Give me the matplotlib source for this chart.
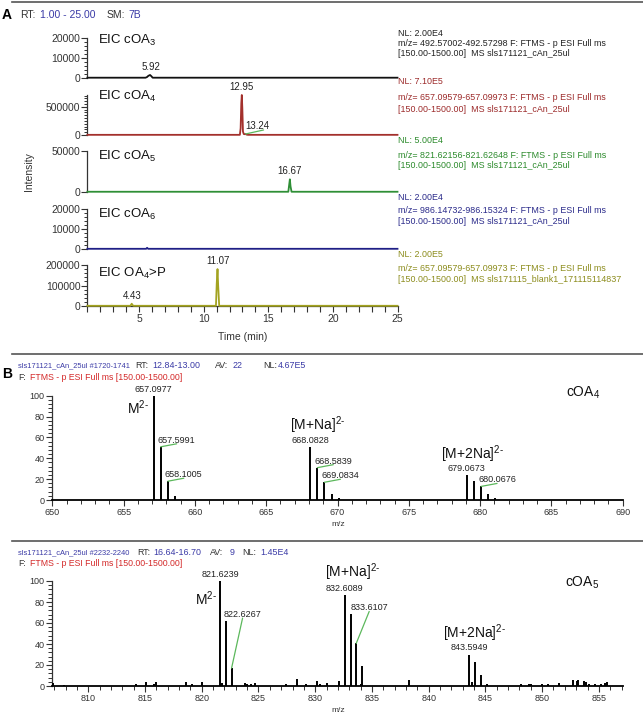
import matplotlib
matplotlib.use("Agg")
import matplotlib.pyplot as plt
from matplotlib.ticker import MultipleLocator

plt.rcParams['font.family'] = ['Liberation Sans', 'DejaVu Sans']
plt.rcParams['mathtext.fontset'] = 'custom'
plt.rcParams['mathtext.rm'] = 'Liberation Sans'
plt.rcParams['mathtext.it'] = 'Liberation Sans:italic'
plt.rcParams['mathtext.bf'] = 'Liberation Sans:bold'

W, H = 643, 714

# ---------------- panel A: extracted ion chromatograms ----------------
eic_names = ['EIC cOA$_3$', 'EIC cOA$_4$', 'EIC cOA$_5$', 'EIC cOA$_6$', 'EIC OA$_4$>P']

coa3_t = [1.0, 5.50, 5.62, 5.72, 5.85, 5.95, 6.05, 25.0]
coa3_i = [150, 150, 500, 1100, 1500, 900, 150, 150]
coa4_t = [1.0, 12.80, 12.86, 12.91, 12.95, 12.99, 13.04, 13.10, 13.18, 13.24, 13.32, 13.42, 25.0]
coa4_i = [3000, 3000, 120000, 560000, 710000, 480000, 60000, 18000, 14000, 18000, 7000, 3000, 3000]
coa5_t = [1.0, 16.55, 16.61, 16.67, 16.72, 16.80, 25.0]
coa5_i = [300, 300, 8000, 15500, 7000, 300, 300]
coa6_t = [1.0, 5.55, 5.62, 5.70, 25.0]
coa6_i = [100, 100, 600, 100, 100]
oa4p_t = [1.0, 4.32, 4.39, 4.43, 4.48, 4.56, 10.95, 11.01, 11.07, 11.12, 11.20, 25.0]
oa4p_i = [1000, 1000, 7000, 11000, 6000, 1000, 1000, 110000, 180000, 100000, 1000, 1000]

eic_t = [coa3_t, coa4_t, coa5_t, coa6_t, oa4p_t]
eic_i = [coa3_i, coa4_i, coa5_i, coa6_i, oa4p_i]

nl_levels = [2.00e4, 7.10e5, 5.00e4, 2.00e4, 2.00e5]
nl_text = ['NL: 2.00E4', 'NL: 7.10E5', 'NL: 5.00E4', 'NL: 2.00E4', 'NL: 2.00E5']
mz_text = ['m/z= 492.57002-492.57298 F: FTMS - p ESI Full ms',
           'm/z= 657.09579-657.09973 F: FTMS - p ESI Full ms',
           'm/z= 821.62156-821.62648 F: FTMS - p ESI Full ms',
           'm/z= 986.14732-986.15324 F: FTMS - p ESI Full ms',
           'm/z= 657.09579-657.09973 F: FTMS - p ESI Full ms']
raw_text = ['[150.00-1500.00]  MS sls171121_cAn_25ul',
            '[150.00-1500.00]  MS sls171121_cAn_25ul',
            '[150.00-1500.00]  MS sls171121_cAn_25ul',
            '[150.00-1500.00]  MS sls171121_cAn_25ul',
            '[150.00-1500.00]  MS sls171115_blank1_171115114837']
eic_yticks = [[0, 10000, 20000], [0, 500000], [0, 50000], [0, 10000, 20000], [0, 100000, 200000]]
eic_yminor = [2000, 50000, None, 2000, 20000]

# labelled chromatographic peaks: (time, intensity, label)
eic_peaks = [[(5.92, 1500, '5.92')],
             [(12.95, 710000, '12.95')],
             [(16.67, 15500, '16.67')],
             [],
             [(4.43, 11000, '4.43'), (11.07, 180000, '11.07')]]
coa4_minor_peak = (13.24, 18000, '13.24')

trace_colors = ['#111111', '#a3302c', '#2f8f36', '#1f1f86', '#a3a321']
text_colors = ['#222222', '#9c2a2a', '#2b8a2b', '#2a2a8a', '#8c8c1c']

# ---------------- panel B: mass spectra ----------------
ms1_mz = [657.0977, 657.5991, 658.1005, 658.602, 668.0828, 668.5839, 669.0834, 669.585, 670.086,
          679.0673, 679.5685, 680.0676, 680.569, 681.070]
ms1_rel = [100, 51, 18, 4, 51, 31, 17, 6, 1.5, 24, 18, 13, 6, 2]
ms1_top = [(657.0977, 100, '657.0977'), (668.0828, 51, '668.0828'), (679.0673, 24, '679.0673')]
ms1_side = [(657.5991, 51, '657.5991'), (658.1005, 18, '658.1005'), (668.5839, 31, '668.5839'),
            (669.0834, 17, '669.0834'), (680.0676, 13, '680.0676')]

ms2_mz = [806.9, 807.9, 814.2, 815.1, 815.8, 816.0, 818.6, 819.1, 820.0, 821.6239, 821.8, 822.12,
          822.6267, 823.8, 823.95, 824.3, 824.7, 827.4, 828.4, 829.2, 830.15, 830.45, 831.0,
          832.07, 832.6089, 833.11, 833.6107, 834.0, 834.11, 838.25, 843.5949, 843.85, 844.1,
          844.6, 845.15, 848.15, 848.85, 849.0, 850.0, 850.55, 851.5, 852.7, 853.05, 853.2,
          853.7, 853.85, 854.1, 854.65, 855.2, 855.55, 855.7]
ms2_rel = [3, 1, 1.5, 3.5, 2, 4, 4, 2, 3.5, 100, 2.5, 62,
           17, 2.5, 2, 1.5, 3, 1.5, 7, 2, 5, 2, 3,
           5, 87, 68.5, 40.5, 2, 19, 6, 30, 4, 23,
           10.5, 2, 1.5, 2, 1.5, 2, 1.5, 2.5, 6, 4.5, 6,
           5, 4, 2, 2, 2, 3, 4]
ms2_top = [(821.6239, 100, '821.6239'), (832.6089, 87, '832.6089'), (843.5949, 30, '843.5949')]
ms2_side = [(822.6267, 17, '822.6267', -8, 49, 11, 50), (833.6107, 40.5, '833.6107', -6, 31, 13, 32)]

blue = '#3a3aa6'
red = '#d42a2a'
dark = '#333333'
green_line = '#5cb85c'

fig = plt.figure(figsize=(W / 100, H / 100), dpi=100)


def px_axes(left, top, right, bottom):
    return fig.add_axes([left / W, 1 - bottom / H, (right - left) / W, (bottom - top) / H])


chrom_boxes = [(38, 78), (95, 135), (151, 192), (209, 249), (265, 306)]
for k in range(5):
    top, bot = chrom_boxes[k]
    ax = px_axes(87.4, top, 397.5, bot)
    ax.patch.set_alpha(0)
    ax.plot(eic_t[k], eic_i[k], color=trace_colors[k], lw=1.3, clip_on=False, zorder=3)
    ax.set_xlim(1, 25)
    ax.set_ylim(0, nl_levels[k])
    ax.spines['top'].set_visible(False)
    ax.spines['right'].set_visible(False)
    ax.spines['left'].set_color(dark)
    ax.spines['left'].set_linewidth(0.9)
    ax.set_yticks(eic_yticks[k])
    ax.set_yticklabels([str(int(v)) for v in eic_yticks[k]])
    if eic_yminor[k]:
        ax.yaxis.set_minor_locator(MultipleLocator(eic_yminor[k]))
    ax.tick_params(axis='y', which='major', direction='out', length=4, width=0.8,
                   labelsize=7.5, pad=1, colors=dark)
    ax.tick_params(axis='y', which='minor', direction='out', length=2.5, width=0.7, colors=dark)
    if k < 4:
        ax.spines['bottom'].set_visible(False)
        ax.set_xticks([])
    else:
        ax.spines['bottom'].set_color(dark)
        ax.spines['bottom'].set_linewidth(0.9)
        ax.set_xticks([5, 10, 15, 20, 25])
        ax.xaxis.set_minor_locator(MultipleLocator(1))
        ax.tick_params(axis='x', which='both', direction='out', length=4, width=0.8,
                       labelsize=7.5, pad=2, colors=dark)
    for (t, y, lab) in eic_peaks[k]:
        ax.annotate(lab, xy=(t, y), xytext=(0, 3), textcoords='offset pixels',
                    ha='center', va='bottom', fontsize=7, color='#222222')
    if k == 1:
        t, y, lab = coa4_minor_peak
        ax.annotate(lab, xy=(t, y), xytext=(0, 3), textcoords='offset pixels',
                    ha='left', va='bottom', fontsize=7, color='#222222')
        ax.annotate('', xy=(t, y), xytext=(18, 4), textcoords='offset pixels',
                    arrowprops=dict(arrowstyle='-', color=green_line, lw=0.9,
                                    shrinkA=0, shrinkB=0))

# spectra
spec_boxes = [(52.3, 395.7, 622.7, 500), (52.0, 581, 622.7, 686)]
spec_xlim = [(650, 690), (806.8, 857.1)]
spec_xticks = [list(range(650, 691, 5)), list(range(810, 856, 5))]
spec_mz = [ms1_mz, ms2_mz]
spec_rel = [ms1_rel, ms2_rel]
spec_top = [ms1_top, ms2_top]
for k in range(2):
    l, t, r, b = spec_boxes[k]
    ax = px_axes(l, t, r, b)
    ax.patch.set_alpha(0)
    ax.vlines(spec_mz[k], 0, spec_rel[k], color='black', lw=1.4, zorder=3)
    ax.set_xlim(*spec_xlim[k])
    ax.set_ylim(0, 100)
    ax.spines['top'].set_visible(False)
    ax.spines['right'].set_visible(False)
    ax.spines['left'].set_color(dark)
    ax.spines['left'].set_linewidth(0.9)
    ax.spines['bottom'].set_color('black')
    ax.spines['bottom'].set_linewidth(1.3)
    ax.set_xticks(spec_xticks[k])
    ax.xaxis.set_minor_locator(MultipleLocator(1))
    ax.set_yticks([0, 20, 40, 60, 80, 100])
    ax.yaxis.set_minor_locator(MultipleLocator(4))
    ax.tick_params(axis='both', which='major', direction='out', length=4, width=0.8,
                   labelsize=6.5, pad=1.5, colors=dark)
    ax.tick_params(axis='both', which='minor', direction='out', length=3, width=0.7, colors=dark)
    for (m, y, lab) in spec_top[k]:
        ax.annotate(lab, xy=(m, y), xytext=(0, 2), textcoords='offset pixels',
                    ha='center', va='bottom', fontsize=6.5, color='#222222')
    if k == 0:
        for (m, y, lab) in ms1_side:
            ax.annotate(lab, xy=(m, y), xytext=(-3, 2), textcoords='offset pixels',
                        ha='left', va='bottom', fontsize=6.5, color='#222222')
            ax.annotate('', xy=(m, y), xytext=(16, 3), textcoords='offset pixels',
                        arrowprops=dict(arrowstyle='-', color=green_line, lw=0.9,
                                        shrinkA=0, shrinkB=0))
    else:
        for (m, y, lab, dx, dy, lx, ly) in ms2_side:
            ax.annotate(lab, xy=(m, y), xytext=(dx, dy), textcoords='offset pixels',
                        ha='left', va='bottom', fontsize=6.5, color='#222222')
            ax.annotate('', xy=(m, y), xytext=(lx, ly), textcoords='offset pixels',
                        arrowprops=dict(arrowstyle='-', color=green_line, lw=0.9,
                                        shrinkA=0, shrinkB=0))

# overlay in pixel coordinates for free text and rules
ov = fig.add_axes([0, 0, 1, 1], zorder=10)
ov.set_xlim(0, W)
ov.set_ylim(H, 0)
ov.axis('off')
ov.patch.set_alpha(0)

for yy in [2, 354, 540.7]:
    ov.plot([12, W], [yy, yy], color='#555555', lw=1.2)

# panel A header
ov.text(2, 15, 'A', fontsize=10, fontweight='bold', va='center', ha='left')
ov.text(20, 15, 'RT:', fontsize=7.5, va='center', color=dark)
ov.text(40, 15, '1.00 - 25.00', fontsize=7.5, va='center', color=blue)
ov.text(107, 15, 'SM:', fontsize=7.5, va='center', color=dark)
ov.text(128, 15, '7B', fontsize=7.5, va='center', color=blue)

name_base = [44, 100, 160, 218, 277]
nl_rows = [(33.3, 43.0, 53.3), (81.7, 97.7, 109.3), (140.5, 155, 166),
           (197.3, 210.7, 222), (254.3, 268.3, 279.3)]
for k in range(5):
    ov.text(98, name_base[k], eic_names[k], fontsize=9.5, va='baseline', ha='left', color='#111111')
    y1, y2, y3 = nl_rows[k]
    ov.text(398, y1, nl_text[k], fontsize=6.4, va='center', color=text_colors[k])
    ov.text(398, y2, mz_text[k], fontsize=6.4, va='center', color=text_colors[k])
    ov.text(398, y3, raw_text[k], fontsize=6.4, va='center', color=text_colors[k])

ov.text(29, 172, 'Intensity', fontsize=7.5, rotation=90, va='center', ha='center', color=dark)
ov.text(243, 337, 'Time (min)', fontsize=7.5, va='center', ha='center', color=dark)

# panel B headers
ov.text(2, 374, 'B', fontsize=10, fontweight='bold', va='center', ha='left')
hdr1 = [(18, 'sls171121_cAn_25ul #1720-1741', blue), (135, 'RT:', dark), (152, '12.84-13.00', blue),
        (215, 'AV:', dark), (233, '22', blue), (263, 'NL:', dark), (278, '4.67E5', blue)]
hdr2 = [(18, 'sls171121_cAn_25ul #2232-2240', blue), (137, 'RT:', dark), (153, '16.64-16.70', blue),
        (210, 'AV:', dark), (230, '9', blue), (242, 'NL:', dark), (260, '1.45E4', blue)]
for hdr, yy in [(hdr1, 366), (hdr2, 552.3)]:
    for i, (hx, s, c) in enumerate(hdr):
        ov.text(hx, yy, s, fontsize=5.4 if i == 0 else 6.4, va='center', color=c)
for yy in [377.7, 563.3]:
    ov.text(18, yy, 'F:', fontsize=6.3, va='center', color=dark)
    ov.text(30, yy, 'FTMS - p ESI Full ms [150.00-1500.00]', fontsize=6.3, va='center', color=red)

ion_labels = [(138, 408, r'M$^{2\text{-}}$'), (318, 425, r'[M+Na]$^{2\text{-}}$'),
              (473, 454, r'[M+2Na]$^{2\text{-}}$'), (583, 393, 'cOA$_4$'),
              (206, 599, r'M$^{2\text{-}}$'), (353, 572, r'[M+Na]$^{2\text{-}}$'),
              (475, 633, r'[M+2Na]$^{2\text{-}}$'), (582, 583, 'cOA$_5$')]
for (lx, ly, s) in ion_labels:
    ov.text(lx, ly, s, fontsize=10, va='center', ha='center', color='#111111')

ov.text(338, 524, 'm/z', fontsize=6, va='center', ha='center', color=dark)
ov.text(338, 710, 'm/z', fontsize=6, va='center', ha='center', color=dark)

fig.savefig('out.png', dpi=100)
